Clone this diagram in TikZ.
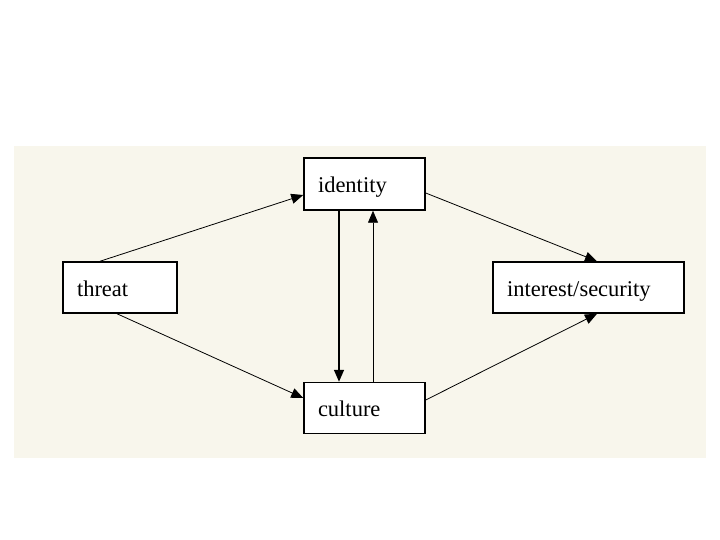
\documentclass[tikz,border=0pt]{standalone}
\usepackage{fontspec}
\setmainfont{Liberation Serif}
\usetikzlibrary{arrows.meta}
\definecolor{panelc}{HTML}{F8F6EC}
\tikzset{
  box/.style={draw=black, line width=1.5pt, fill=white, rectangle, inner xsep=14pt, inner ysep=0pt, align=left, text height=20pt, text depth=3pt, font=\fontsize{22.5}{24}\selectfont},
  arr/.style={draw=black, line width=0.8pt, -{Triangle[length=12pt,width=10pt]}},
  arrthick/.style={arr, line width=1.6pt}
}
\begin{document}
\begin{tikzpicture}[x=1pt,y=-1pt]
\useasboundingbox (0,0) rectangle (720,540);
\fill[panelc] (14,146) rectangle (706,458);
\node[box, minimum width=121pt, minimum height=52pt, text width=93pt] (id) at (364.5,184) {identity};
\node[box, minimum width=114pt, minimum height=51pt, text width=86pt] (thr) at (120,287.5) {threat};
\node[box, minimum width=191pt, minimum height=51pt, text width=163pt] (int) at (588.5,287.5) {interest/security};
\node[box, minimum width=121pt, minimum height=51pt, text width=93pt] (cul) at (364.5,408) {culture};
\draw[arr] ([xshift=-20pt]thr.north) -- ([yshift=-11pt]id.west);
\draw[arr] ([xshift=-3pt]thr.south) -- ([yshift=10pt]cul.west);
\draw[arr] ([yshift=-9pt]id.east) -- ([xshift=8.5pt]int.north);
\draw[arr] ([yshift=8pt]cul.east) -- ([xshift=8.5pt]int.south);
\draw[arrthick] ([xshift=-25.5pt]id.south) -- ([xshift=-25.5pt]cul.north);
\draw[arr] ([xshift=8.5pt]cul.north) -- ([xshift=8.5pt]id.south);
\end{tikzpicture}
\end{document}
